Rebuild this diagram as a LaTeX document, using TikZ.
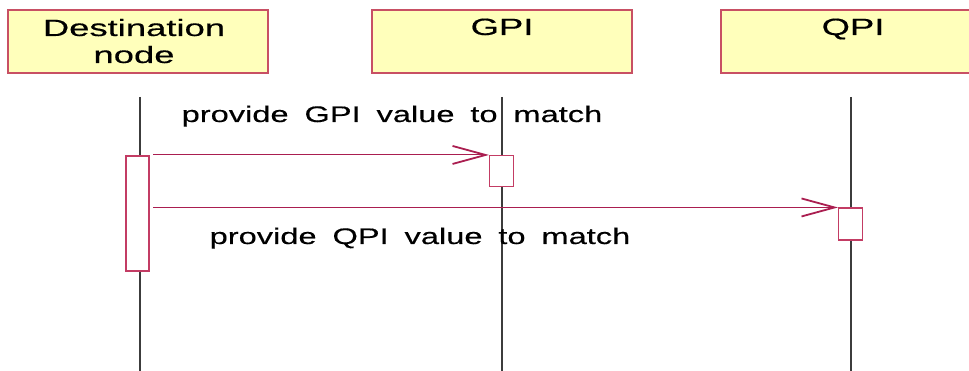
\documentclass[tikz,border=0pt]{standalone}
\usepackage{fontspec}
\setmainfont{Liberation Sans}[FakeStretch=1.55,FakeBold=0.4]
\newfontfamily\labfont{Liberation Sans}[FakeStretch=1.45,WordSpace=1.75,FakeBold=0.4]
\usetikzlibrary{arrows.meta}
\definecolor{boxfill}{RGB}{255,255,187}
\definecolor{boxline}{RGB}{200,80,100}
\definecolor{msgcol}{RGB}{170,30,80}
\definecolor{actline}{RGB}{195,60,100}
\definecolor{lifecol}{RGB}{60,60,60}
\begin{document}
\begin{tikzpicture}[x=1pt,y=-1pt,
  objbox/.style={draw=boxline,line width=1.3pt,fill=boxfill,rectangle,inner sep=0pt},
  actbox/.style={draw=actline,line width=1.1pt,fill=white,rectangle,inner sep=0pt},
  life/.style={draw=lifecol,line width=1.2pt},
  msg/.style={draw=msgcol,line width=0.9pt,-{Straight Barb[length=33pt,width=18pt,line width=1.8pt]}},
  txt/.style={inner sep=0pt,font=\fontsize{23.5}{27}\selectfont},
  labtxt/.style={inner sep=0pt,font=\labfont\fontsize{22.5}{27}\selectfont},
  ]
\useasboundingbox (0,0) rectangle (969,371);
% object boxes
\node[objbox,minimum width=260pt,minimum height=63pt] (dest) at (138,41.5) {};
\node[objbox,minimum width=260pt,minimum height=63pt] (gpi) at (502,41.5) {};
\node[objbox,minimum width=260pt,minimum height=63pt] (qpi) at (851,41.5) {};
\node[txt,anchor=base] (destt1) at (134,36) {Destination};
\node[txt,anchor=base] (destt2) at (134,63) {node};
\node[txt,anchor=base] (gpit) at (502,35) {GPI};
\node[txt,anchor=base] (qpit) at (853,35) {QPI};
% lifelines
\coordinate (l1a) at (140,97); \coordinate (l1b) at (140,371);
\coordinate (l2a) at (502,97); \coordinate (l2b) at (502,371);
\coordinate (l3a) at (851,97); \coordinate (l3b) at (851,371);
\draw[life] (l1a) -- (l1b);
\draw[life] (l2a) -- (l2b);
\draw[life] (l3a) -- (l3b);
% activations
\node[actbox,minimum width=23pt,minimum height=115pt] (act1) at (137.5,213.5) {};
\node[actbox,minimum width=24pt,minimum height=31pt] (act2) at (501.5,171) {};
\node[actbox,minimum width=24pt,minimum height=32pt] (act3) at (850.5,224) {};
% messages
\coordinate (m1s) at (153,156);
\coordinate (m2s) at (153,208);
\draw[msg] (m1s |- act2.north west) -- (act2.north west);
\draw[msg] (m2s |- act3.north west) -- (act3.north west);
% labels
\node[labtxt,anchor=base] (lab1) at (392,122) {provide GPI value to match};
\node[labtxt,anchor=base] (lab2) at (420,244) {provide QPI value to match};
\end{tikzpicture}
\end{document}
